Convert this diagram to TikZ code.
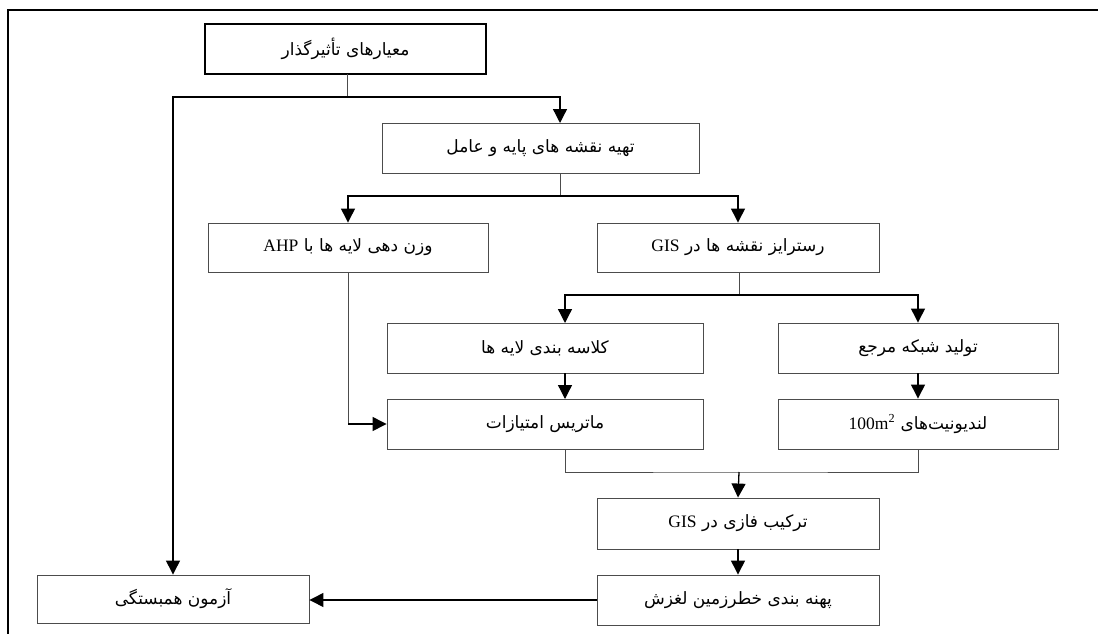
\documentclass[tikz,border=0pt]{standalone}
\usepackage{fontspec}
\setmainfont{Liberation Serif}
\newfontfamily\fa[Script=Arabic]{DejaVu Sans}
\TeXXeTstate=1
\usetikzlibrary{arrows.meta}
\tikzset{
  box/.style={draw=black!70, line width=0.9pt, minimum height=49pt, inner sep=0pt, fill=white},
  topbox/.style={draw=black, line width=1.8pt, minimum height=50pt, minimum width=281pt, inner sep=0pt},
  arr/.style={draw=black, line width=1.3pt, -{Triangle[width=14pt,length=14pt]}},
  ln/.style={draw=black!70, line width=1pt},
  frame/.style={draw=black, line width=1.8pt}
}
\newcommand{\fatext}[1]{{\fa\fontsize{17}{20}\selectfont\beginR #1\endR}}
\newcommand{\lat}[1]{\beginL{\rmfamily\fontsize{17.5}{20}\selectfont #1}\endL}
\begin{document}
\begin{tikzpicture}[x=1pt,y=-1pt]
\useasboundingbox (0,0) rectangle (1098,634);
\draw[frame] (1098,10) -- (8,10) -- (8,634);

\node[topbox] (B1) at (345.5,49) {\fatext{معیارهای تأثیرگذار}};
\node[box, minimum width=317pt, minimum height=50pt] (B2) at (540.5,148) {\fatext{تهیه نقشه های پایه و عامل}};
\node[box, minimum width=280pt] (B3) at (348,247.5) {\fatext{وزن دهی لایه ها با\ \lat{AHP}}};
\node[box, minimum width=282pt] (B4) at (738,247.5) {\fatext{رسترایز نقشه ها در\ \lat{GIS}}};
\node[box, minimum width=316pt, minimum height=50pt] (B5) at (545,348) {\fatext{کلاسه بندی لایه ها}};
\node[box, minimum width=280pt, minimum height=50pt] (B6) at (918,348) {\fatext{تولید شبکه مرجع}};
\node[box, minimum width=316pt, minimum height=50pt] (B7) at (545,424) {\fatext{ماتریس امتیازات}};
\node[box, minimum width=280pt, minimum height=50pt] (B8) at (918,424) {\fatext{لندیونیت‌های \lat{100m\textsuperscript{2}}}};
\node[box, minimum width=282pt, minimum height=51pt] (B9) at (738,523.5) {\fatext{ترکیب فازی در\ \lat{GIS}}};
\node[box, minimum width=282pt, minimum height=50pt] (B10) at (738,600) {\fatext{پهنه بندی خطرزمین لغزش}};
\node[box, minimum width=272pt, minimum height=48pt] (B11) at (173,599) {\fatext{آزمون همبستگی}};

% junctions
\coordinate (b1s) at (347,74);
\coordinate (j1) at (347,97);
\coordinate (b2n) at (560,123);
\coordinate (b2s) at (560,173);
\coordinate (j2) at (560,196);
\coordinate (b4s) at (739,272);
\coordinate (j3) at (739,295);
\coordinate (b5n) at (565,323);
\coordinate (b5s) at (565,373);
\coordinate (b7n) at (565,399);
\coordinate (b7s) at (565,449);
\coordinate (j4) at (739,472);
\coordinate (k3) at (348,424);

\draw[ln] (B3.south) -- (k3);
\draw[ln] (b1s) -- (j1);
\draw[arr] (j1) -| (b2n);
\draw[arr] (j1) -| (B11.north);

\draw[ln] (b2s) -- (j2);
\draw[arr] (j2) -| (B3.north);
\draw[arr] (j2) -| (B4.north);

\draw[arr] (k3) -- (B7.west);

\draw[ln] (b4s) -- (j3);
\draw[arr] (j3) -| (b5n);
\draw[arr] (j3) -| (B6.north);

\draw[arr] (b5s) -- (b7n);
\draw[arr] (B6.south) -- (B8.north);

\draw[ln] (b7s) |- (j4) -| (B8.south);
\draw[arr] (j4) -- (B9.north);
\draw[arr] (B9.south) -- (B10.north);
\draw[arr] (B10.west) -- (B10.west -| B11.east);
\end{tikzpicture}
\end{document}
